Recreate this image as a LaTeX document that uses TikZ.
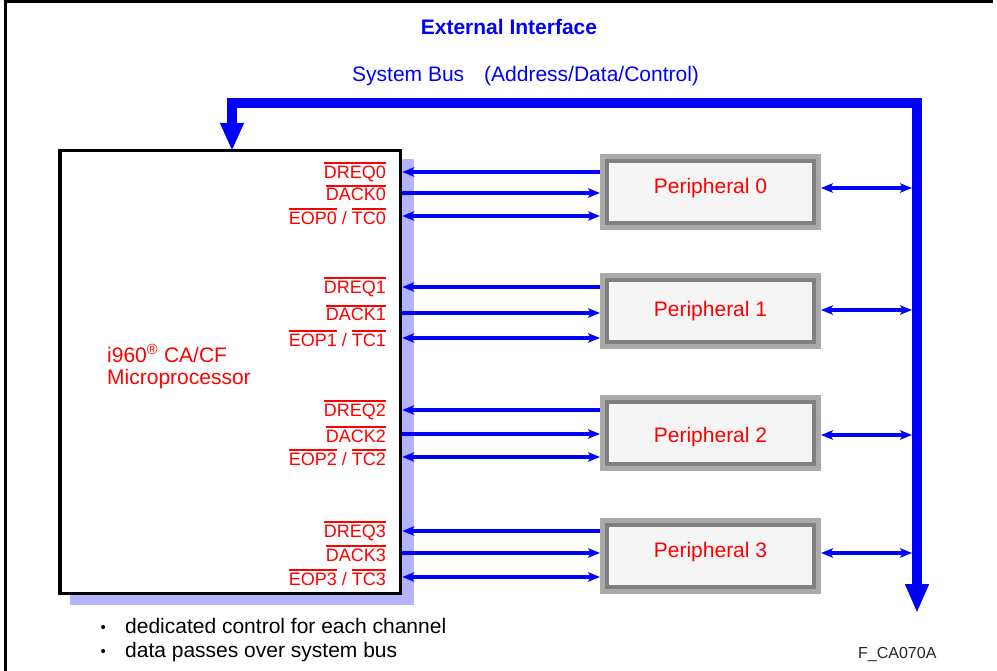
\documentclass[tikz,border=0pt]{standalone}
\usepackage{fontspec}
\setmainfont{Liberation Sans}
\usetikzlibrary{arrows.meta,calc}
\definecolor{sigblue}{RGB}{0,0,255}
\definecolor{sigred}{RGB}{255,0,0}
\definecolor{shadowblue}{RGB}{179,179,255}
\definecolor{pfill}{RGB}{245,245,245}
\definecolor{pdark}{RGB}{128,128,128}
\definecolor{plight}{RGB}{170,170,170}
\newcommand\ovl[1]{\leavevmode\vbox{\hrule height 1.8pt\kern1.7pt\hbox{#1}}}
\begin{document}
\begin{tikzpicture}[x=1pt,y=-1pt,
  >={Stealth[length=12pt,width=9.5pt,inset=3pt]},
  sig/.style={draw=sigblue, line width=3.6pt},
  busline/.style={draw=sigblue, line width=10pt, line join=miter,
    {Triangle[length=28pt,width=22pt]}-{Triangle[length=29pt,width=22pt]}},
  lbl/.style={text=sigred, font=\fontsize{18}{20}\selectfont, anchor=base east, inner sep=0pt},
  periph/.style={draw=pdark, line width=4pt, fill=pfill, minimum width=207pt,
    minimum height=62pt, outer sep=7pt, preaction={draw=plight, line width=14pt},
    text=sigred, font=\fontsize{21}{24}\selectfont, text height=15pt, text depth=4pt},
  cpubox/.style={draw=black, line width=3.5pt, fill=white, minimum width=340.5pt,
    minimum height=443pt, inner sep=0pt},
  body/.style={font=\fontsize{21}{24}\selectfont, inner sep=0pt}
]
\useasboundingbox (0,0) rectangle (997,671);
% frame
\draw[line width=3pt, black] (5,671) -- (5,1.5) -- (993,1.5);
% titles
\node[body, anchor=base, text=sigblue, font=\fontsize{21}{24}\selectfont\bfseries] (title) at (509,35) {External Interface};
\node[body, anchor=base west, text=sigblue] (bustitle) at (352,82) {System Bus\hspace{20pt}(Address/Data/Control)};
% cpu with shadow
\fill[shadowblue] (70,159) rectangle (414,605);
\node[cpubox] (cpu) at (230.25,372) {};
\node[body, anchor=west, align=left, text=sigred, font=\fontsize{21}{22}\selectfont] (cpulabel) at (107,366.5) {i960\textsuperscript{®} CA/CF\\Microprocessor};
% bus
\coordinate (busin) at (232,151);
\coordinate (buscorner) at (917,103);
\coordinate (busout) at (917,613);
\coordinate (busedge) at (912,0);
\draw[busline] (busin) |- (buscorner) -- (busout);
% channels
\foreach \n/\a/\b/\c/\r/\py/\ty in {0/172/193/216/188/192/4, 1/287/313/338/310/311/0, 2/410/434/457/435/432.5/-4, 3/531/553/577/553/556/4}{
  \node[periph] (p\n) at (710.5,\py) {\raisebox{\ty pt}{Peripheral \n}};
  \coordinate (ya\n) at (0,\a);
  \coordinate (yb\n) at (0,\b);
  \coordinate (yc\n) at (0,\c);
  \coordinate (yr\n) at (0,\r);
  \draw[sig,<-] (cpu.east |- ya\n) -- (p\n.west |- ya\n);
  \draw[sig,->] (cpu.east |- yb\n) -- (p\n.west |- yb\n);
  \draw[sig,<->] (cpu.east |- yc\n) -- (p\n.west |- yc\n);
  \draw[sig,<->] (p\n.east |- yr\n) -- (busedge |- yr\n);
  \node[lbl] (dreq\n) at (386,\a+6.5) {\ovl{DREQ\n}};
  \node[lbl] (dack\n) at (386,\b+8) {\ovl{DACK\n}};
  \node[lbl] (eop\n) at (386,\c+8.5) {\ovl{EOP\n} / \ovl{TC\n}};
}
% notes
\node[body, anchor=base west] (note1) at (100.5,633) {\makebox[24.5pt][l]{\fontsize{15}{15}\selectfont\raisebox{1pt}{•}}dedicated control for each channel};
\node[body, anchor=base west] (note2) at (100.5,657) {\makebox[24.5pt][l]{\fontsize{15}{15}\selectfont\raisebox{1pt}{•}}data passes over system bus};
\node[inner sep=0pt, anchor=base west, font=\fontsize{16}{18}\selectfont, text=black!85] (fig) at (858,658) {F\_CA070A};
\end{tikzpicture}
\end{document}
